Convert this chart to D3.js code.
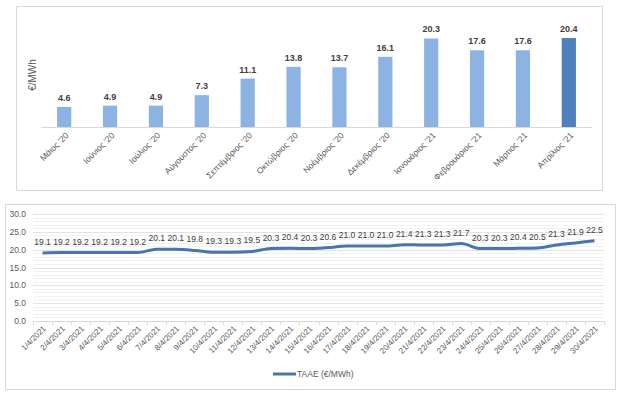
<!DOCTYPE html>
<html>
<head>
<meta charset="utf-8">
<script src="https://cdn.jsdelivr.net/npm/d3@7"></script>
<style>
  body { margin: 0; background: #fff; }
  svg { display: block; font-family: "Liberation Sans", Arial, sans-serif; }
</style>
</head>
<body>
<svg width="621" height="395"></svg>
<script>
const months = ["Μάιος '20", "Ιούνιος '20", "Ιούλιος '20", "Αύγουστος '20", "Σεπτέμβριος '20",
    "Οκτώβριος '20", "Νοέμβριος '20", "Δεκέμβριος '20", "Ιανουάριος '21", "Φεβρουάριος '21",
    "Μάρτιος '21", "Απρίλιος '21"];
const monthValues = [4.6, 4.9, 4.9, 7.3, 11.1, 13.8, 13.7, 16.1, 20.3, 17.6, 17.6, 20.4];

const days = ["1/4/2021", "2/4/2021", "3/4/2021", "4/4/2021", "5/4/2021", "6/4/2021", "7/4/2021",
    "8/4/2021", "9/4/2021", "10/4/2021", "11/4/2021", "12/4/2021", "13/4/2021", "14/4/2021",
    "15/4/2021", "16/4/2021", "17/4/2021", "18/4/2021", "19/4/2021", "20/4/2021", "21/4/2021",
    "22/4/2021", "23/4/2021", "24/4/2021", "25/4/2021", "26/4/2021", "27/4/2021", "28/4/2021",
    "29/4/2021", "30/4/2021"];
const dayValues = [19.1, 19.2, 19.2, 19.2, 19.2, 19.2, 20.1, 20.1, 19.8, 19.3, 19.3, 19.5, 20.3, 20.4,
    20.3, 20.6, 21.0, 21.0, 21.0, 21.4, 21.3, 21.3, 21.7, 20.3, 20.3, 20.4, 20.5, 21.3, 21.9, 22.5];
const yTicks = [0, 5, 10, 15, 20, 25, 30];
const legendLabel = "TAAE (€/MWh)";

const svg = d3.select("svg");

// --- top panel: monthly bars ---
svg.append("rect")
    .attr("x", 16.5).attr("y", 6.5).attr("width", 586).attr("height", 184)
    .attr("fill", "#fff").attr("stroke", "#d9d9d9");

const x1 = d3.scaleBand().domain(months).range([41, 592]).paddingInner(0.69).paddingOuter(0.35);
const y1 = d3.scaleLinear().domain([0, 25]).range([127, 18]);

svg.append("line")
    .attr("x1", 41).attr("x2", 592).attr("y1", 127.5).attr("y2", 127.5)
    .attr("stroke", "#d9d9d9");

svg.selectAll(".bar")
    .data(monthValues)
    .enter()
    .append("rect")
    .attr("x", (d, i) => x1(months[i]))
    .attr("y", d => y1(d))
    .attr("width", x1.bandwidth())
    .attr("height", d => y1(0) - y1(d))
    .attr("fill", (d, i) => i === months.length - 1 ? "#4f7fbd" : "#8db3e2");

svg.selectAll(".barlabel")
    .data(monthValues)
    .enter()
    .append("text")
    .attr("x", (d, i) => x1(months[i]) + x1.bandwidth() / 2)
    .attr("y", d => y1(d) - 6)
    .attr("text-anchor", "middle")
    .attr("font-size", 9)
    .attr("font-weight", "bold")
    .attr("fill", "#404040")
    .text(d => d.toFixed(1));

svg.selectAll(".monthlabel")
    .data(months)
    .enter()
    .append("text")
    .attr("transform", d => `translate(${x1(d) + x1.bandwidth() / 2 + 5},${136}) rotate(-45)`)
    .attr("text-anchor", "end")
    .attr("font-size", 8.5)
    .attr("fill", "#595959")
    .text(d => d);

svg.append("text")
    .attr("transform", "translate(36,75) rotate(-90)")
    .attr("text-anchor", "middle")
    .attr("font-size", 10)
    .attr("fill", "#595959")
    .text("€/MWh");

// --- bottom panel: daily line ---
svg.append("rect")
    .attr("x", 5.5).attr("y", 204.5).attr("width", 610).attr("height", 185)
    .attr("fill", "#fff").attr("stroke", "#d9d9d9");

const x2 = d3.scaleBand().domain(days).range([33, 604]);
const y2 = d3.scaleLinear().domain([0, 30]).range([321, 214]);

// minor gridlines
svg.append("g")
    .selectAll("line")
    .data(d3.range(0, 31, 1))
    .enter()
    .append("line")
    .attr("x1", 33).attr("x2", 604)
    .attr("y1", d => Math.round(y2(d)) + 0.5)
    .attr("y2", d => Math.round(y2(d)) + 0.5)
    .attr("stroke", d => d % 5 === 0 ? "#e3e3e3" : "#f2f2f2");

svg.append("line")
    .attr("x1", 33).attr("x2", 604)
    .attr("y1", Math.round(y2(0)) + 0.5).attr("y2", Math.round(y2(0)) + 0.5)
    .attr("stroke", "#d9d9d9");

// category tick marks
svg.append("g")
    .selectAll("line")
    .data(days.concat(["end"]))
    .enter()
    .append("line")
    .attr("x1", (d, i) => Math.round(33 + i * x2.step()) + 0.5)
    .attr("x2", (d, i) => Math.round(33 + i * x2.step()) + 0.5)
    .attr("y1", y2(0)).attr("y2", y2(0) + 4)
    .attr("stroke", "#d9d9d9");

svg.selectAll(".ytick")
    .data(yTicks)
    .enter()
    .append("text")
    .attr("x", 26)
    .attr("y", d => y2(d) + 3)
    .attr("text-anchor", "end")
    .attr("font-size", 8.5)
    .attr("fill", "#595959")
    .text(d => d.toFixed(1));

const line = d3.line()
    .x((d, i) => x2(days[i]) + x2.bandwidth() / 2)
    .y(d => y2(d))
    .curve(d3.curveMonotoneX);

svg.append("path")
    .datum(dayValues)
    .attr("d", line)
    .attr("fill", "none")
    .attr("stroke", "#4a74aa")
    .attr("stroke-width", 3);

svg.selectAll(".daylabel")
    .data(dayValues)
    .enter()
    .append("text")
    .attr("x", (d, i) => x2(days[i]) + x2.bandwidth() / 2)
    .attr("y", d => y2(d) - 8)
    .attr("text-anchor", "middle")
    .attr("font-size", 8.5)
    .attr("fill", "#404040")
    .text(d => d.toFixed(1));

svg.selectAll(".datelabel")
    .data(days)
    .enter()
    .append("text")
    .attr("transform", d => `translate(${x2(d) + x2.bandwidth() / 2 + 4},${329}) rotate(-45)`)
    .attr("text-anchor", "end")
    .attr("font-size", 8)
    .attr("fill", "#595959")
    .text(d => d);

// legend
svg.append("line")
    .attr("x1", 273).attr("x2", 296).attr("y1", 374).attr("y2", 374)
    .attr("stroke", "#4a74aa").attr("stroke-width", 3);
svg.append("text")
    .attr("x", 297).attr("y", 377)
    .attr("font-size", 8.5)
    .attr("fill", "#595959")
    .text(legendLabel);
</script>
</body>
</html>
